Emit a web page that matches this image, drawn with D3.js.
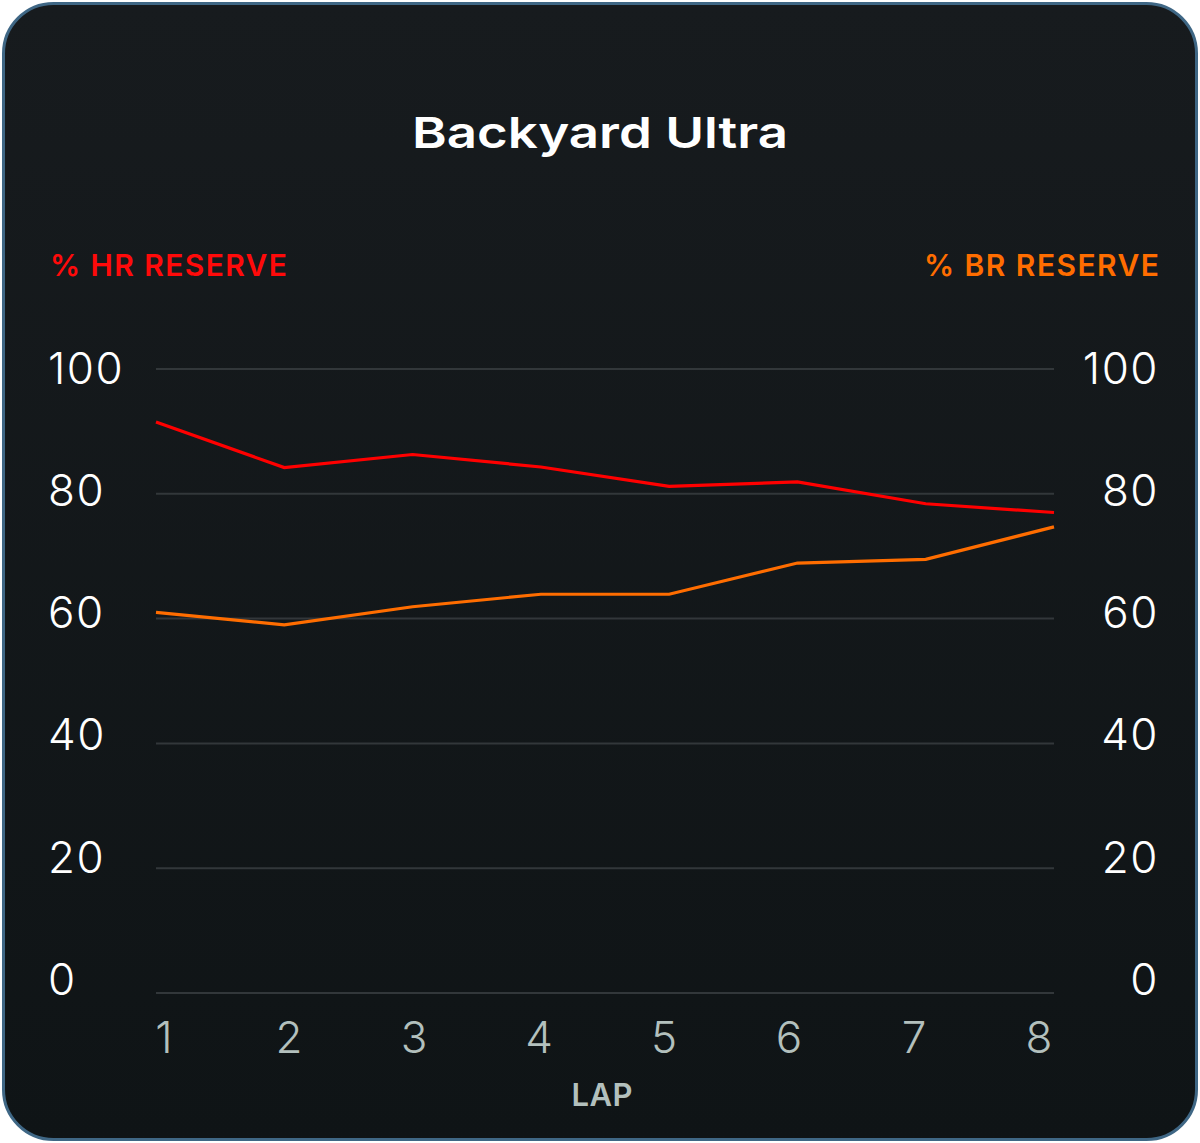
<!DOCTYPE html>
<html>
<head>
<meta charset="utf-8">
<script src="https://cdn.jsdelivr.net/npm/d3@7"></script>
<style>
  html, body { margin: 0; padding: 0; background: #ffffff; }
  svg { display: block; }
  text { font-family: Inter, "Noto Sans", sans-serif; }
</style>
</head>
<body>
<svg id="chart" width="1200" height="1143"></svg>
<script>
const title = "Backyard Ultra";
const laps = [1, 2, 3, 4, 5, 6, 7, 8];
const hrReserve = [91.5, 84.2, 86.3, 84.3, 81.2, 81.9, 78.4, 77.0];
const brReserve = [61.0, 59.0, 61.9, 63.9, 63.9, 68.9, 69.5, 74.7];
const yTicks = [0, 20, 40, 60, 80, 100];
const leftAxisTitle = "% HR RESERVE";
const rightAxisTitle = "% BR RESERVE";
const xAxisTitle = "LAP";

const svg = d3.select("#chart");

const defs = svg.append("defs");
const grad = defs.append("linearGradient").attr("id", "bg").attr("x1", 0).attr("y1", 0).attr("x2", 0).attr("y2", 1);
grad.append("stop").attr("offset", "0%").attr("stop-color", "#171b1e");
grad.append("stop").attr("offset", "100%").attr("stop-color", "#0f1416");

svg.append("rect")
  .attr("x", 3.5).attr("y", 3.5)
  .attr("width", 1193).attr("height", 1136)
  .attr("rx", 50).attr("ry", 50)
  .attr("fill", "url(#bg)")
  .attr("stroke", "#3f6785")
  .attr("stroke-width", 3);

const x = d3.scalePoint().domain(laps).range([156, 1054]);
const xLabel = d3.scalePoint().domain(laps).range([164, 1039]);
const y = d3.scaleLinear().domain([0, 100]).range([993, 369]);
const yLabel = d3.scaleLinear().domain([0, 100]).range([979, 367.5]);

// title
svg.append("text")
  .attr("x", 600).attr("y", 148)
  .attr("text-anchor", "middle")
  .attr("fill", "#ffffff")
  .attr("font-size", 43)
  .attr("font-weight", 600)
  .attr("textLength", 376)
  .attr("lengthAdjust", "spacingAndGlyphs")
  .text(title);

// axis titles
svg.append("text")
  .attr("x", 50).attr("y", 276)
  .attr("fill", "#ff0a0a")
  .attr("font-size", 30)
  .attr("font-weight", 600)
  .attr("textLength", 237)
  .attr("lengthAdjust", "spacing")
  .text(leftAxisTitle);

svg.append("text")
  .attr("x", 924).attr("y", 276)
  .attr("fill", "#ff6d00")
  .attr("font-size", 30)
  .attr("font-weight", 600)
  .attr("textLength", 235)
  .attr("lengthAdjust", "spacing")
  .text(rightAxisTitle);

// gridlines
svg.append("g").selectAll("line")
  .data(yTicks)
  .join("line")
  .attr("x1", x.range()[0]).attr("x2", x.range()[1])
  .attr("y1", d => y(d)).attr("y2", d => y(d))
  .attr("stroke", "#32373a")
  .attr("stroke-width", 2);

// y tick labels left
svg.append("g").selectAll("text")
  .data(yTicks)
  .join("text")
  .attr("x", 48)
  .attr("y", d => yLabel(d) + 16)
  .attr("fill", "#ffffff")
  .attr("font-size", 44)
  .attr("font-weight", 300)
  .attr("letter-spacing", 1.5)
  .text(d => d);

// y tick labels right
svg.append("g").selectAll("text")
  .data(yTicks)
  .join("text")
  .attr("x", 1159)
  .attr("y", d => yLabel(d) + 16)
  .attr("text-anchor", "end")
  .attr("fill", "#ffffff")
  .attr("font-size", 44)
  .attr("font-weight", 300)
  .attr("letter-spacing", 1.5)
  .text(d => d);

// x tick labels
svg.append("g").selectAll("text")
  .data(laps)
  .join("text")
  .attr("x", d => xLabel(d))
  .attr("y", 1053)
  .attr("text-anchor", "middle")
  .attr("fill", "#b3c0bd")
  .attr("font-size", 44)
  .attr("font-weight", 300)
  .text(d => d);

svg.append("text")
  .attr("x", 602).attr("y", 1106)
  .attr("text-anchor", "middle")
  .attr("fill", "#b3c0bd")
  .attr("font-size", 31)
  .attr("font-weight", 600)
  .attr("textLength", 61)
  .attr("lengthAdjust", "spacing")
  .text(xAxisTitle);

const line = d3.line().x((d, i) => x(laps[i])).y(d => y(d));

svg.append("path")
  .datum(brReserve)
  .attr("d", line)
  .attr("fill", "none")
  .attr("stroke", "#ff6d00")
  .attr("stroke-width", 3.2);

svg.append("path")
  .datum(hrReserve)
  .attr("d", line)
  .attr("fill", "none")
  .attr("stroke", "#ff0000")
  .attr("stroke-width", 3.2);
</script>
</body>
</html>
